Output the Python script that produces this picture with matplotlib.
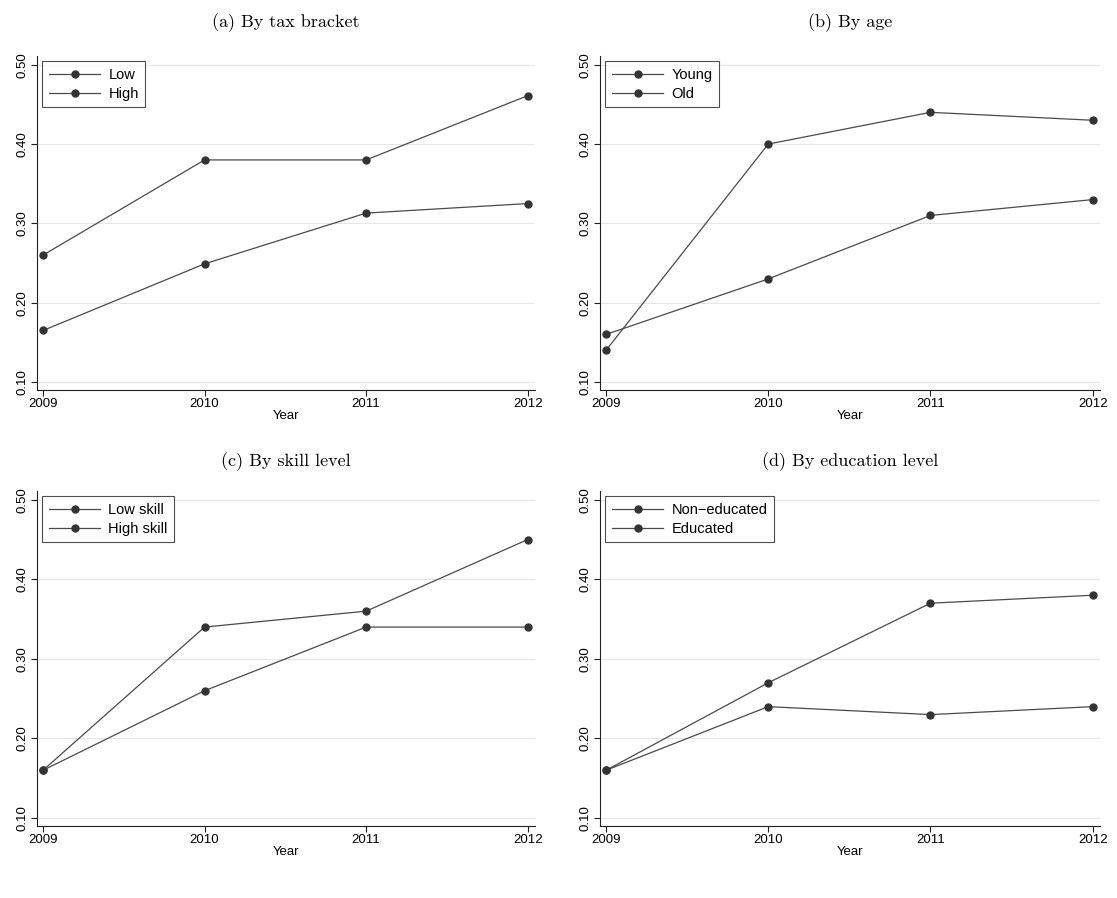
import matplotlib
matplotlib.use("Agg")
import matplotlib.pyplot as plt
import numpy as np

years = [2009, 2010, 2011, 2012]
yticks = [0.10, 0.20, 0.30, 0.40, 0.50]

titles = ["(a) By tax bracket", "(b) By age", "(c) By skill level", "(d) By education level"]
labels = [("Low", "High"), ("Young", "Old"), ("Low skill", "High skill"), ("Non\u2212educated", "Educated")]

tax_low = [0.165, 0.249, 0.313, 0.325]
tax_high = [0.26, 0.38, 0.38, 0.461]
age_young = [0.14, 0.40, 0.44, 0.43]
age_old = [0.16, 0.23, 0.31, 0.33]
skill_low = [0.16, 0.26, 0.34, 0.34]
skill_high = [0.16, 0.34, 0.36, 0.45]
edu_non = [0.16, 0.24, 0.23, 0.24]
edu_yes = [0.16, 0.27, 0.37, 0.38]

series = [(tax_low, tax_high), (age_young, age_old), (skill_low, skill_high), (edu_non, edu_yes)]

plt.rcParams['font.family'] = ['Liberation Sans', 'DejaVu Sans']

fig = plt.figure(figsize=(11.17, 8.98), dpi=100)
W, H = 1117, 898
positions = [(37, 56, 535, 390), (600, 56, 1100, 390), (37, 491, 535, 826), (600, 491, 1100, 826)]

for i, (x0, y0, x1, y1) in enumerate(positions):
    ax = fig.add_axes([x0 / W, 1 - y1 / H, (x1 - x0) / W, (y1 - y0) / H])
    a, b = series[i]
    la, lb = labels[i]
    ax.plot(years, a, color='#4a4a4a', lw=0.9, marker='o', ms=5, mfc='#333333', mec='#333333', label=la)
    ax.plot(years, b, color='#4a4a4a', lw=0.9, marker='o', ms=5, mfc='#333333', mec='#333333', label=lb)
    ax.set_xlim(2008.963, 2012.045)
    ax.set_ylim(0.09, 0.511)
    ax.set_xticks(years)
    ax.set_yticks(yticks)
    ax.set_yticklabels([f"{v:.2f}" for v in yticks], rotation=90, va='center')
    ax.tick_params(axis='both', labelsize=9.5, length=4, width=0.8, direction='out', pad=2, color='#222222')
    for s in ['top', 'right']:
        ax.spines[s].set_visible(False)
    for s in ['left', 'bottom']:
        ax.spines[s].set_linewidth(0.8)
        ax.spines[s].set_color('#222222')
    ax.grid(axis='y', color='#e6e6e6', lw=0.8)
    ax.set_axisbelow(True)
    ax.set_xlabel("Year", fontsize=9.5, labelpad=0)
    ax.set_title(titles[i], family='cmr10', fontsize=13, pad=(21 if i < 2 else 18))
    leg = ax.legend(loc='upper left', fontsize=10.5, frameon=True, fancybox=False,
                    edgecolor='#222222', borderaxespad=0.35, handlelength=3.55,
                    borderpad=0.45, labelspacing=0.35, handletextpad=0.55)
    leg.get_frame().set_linewidth(0.8)

fig.savefig("out.png", dpi=100, facecolor='white')
